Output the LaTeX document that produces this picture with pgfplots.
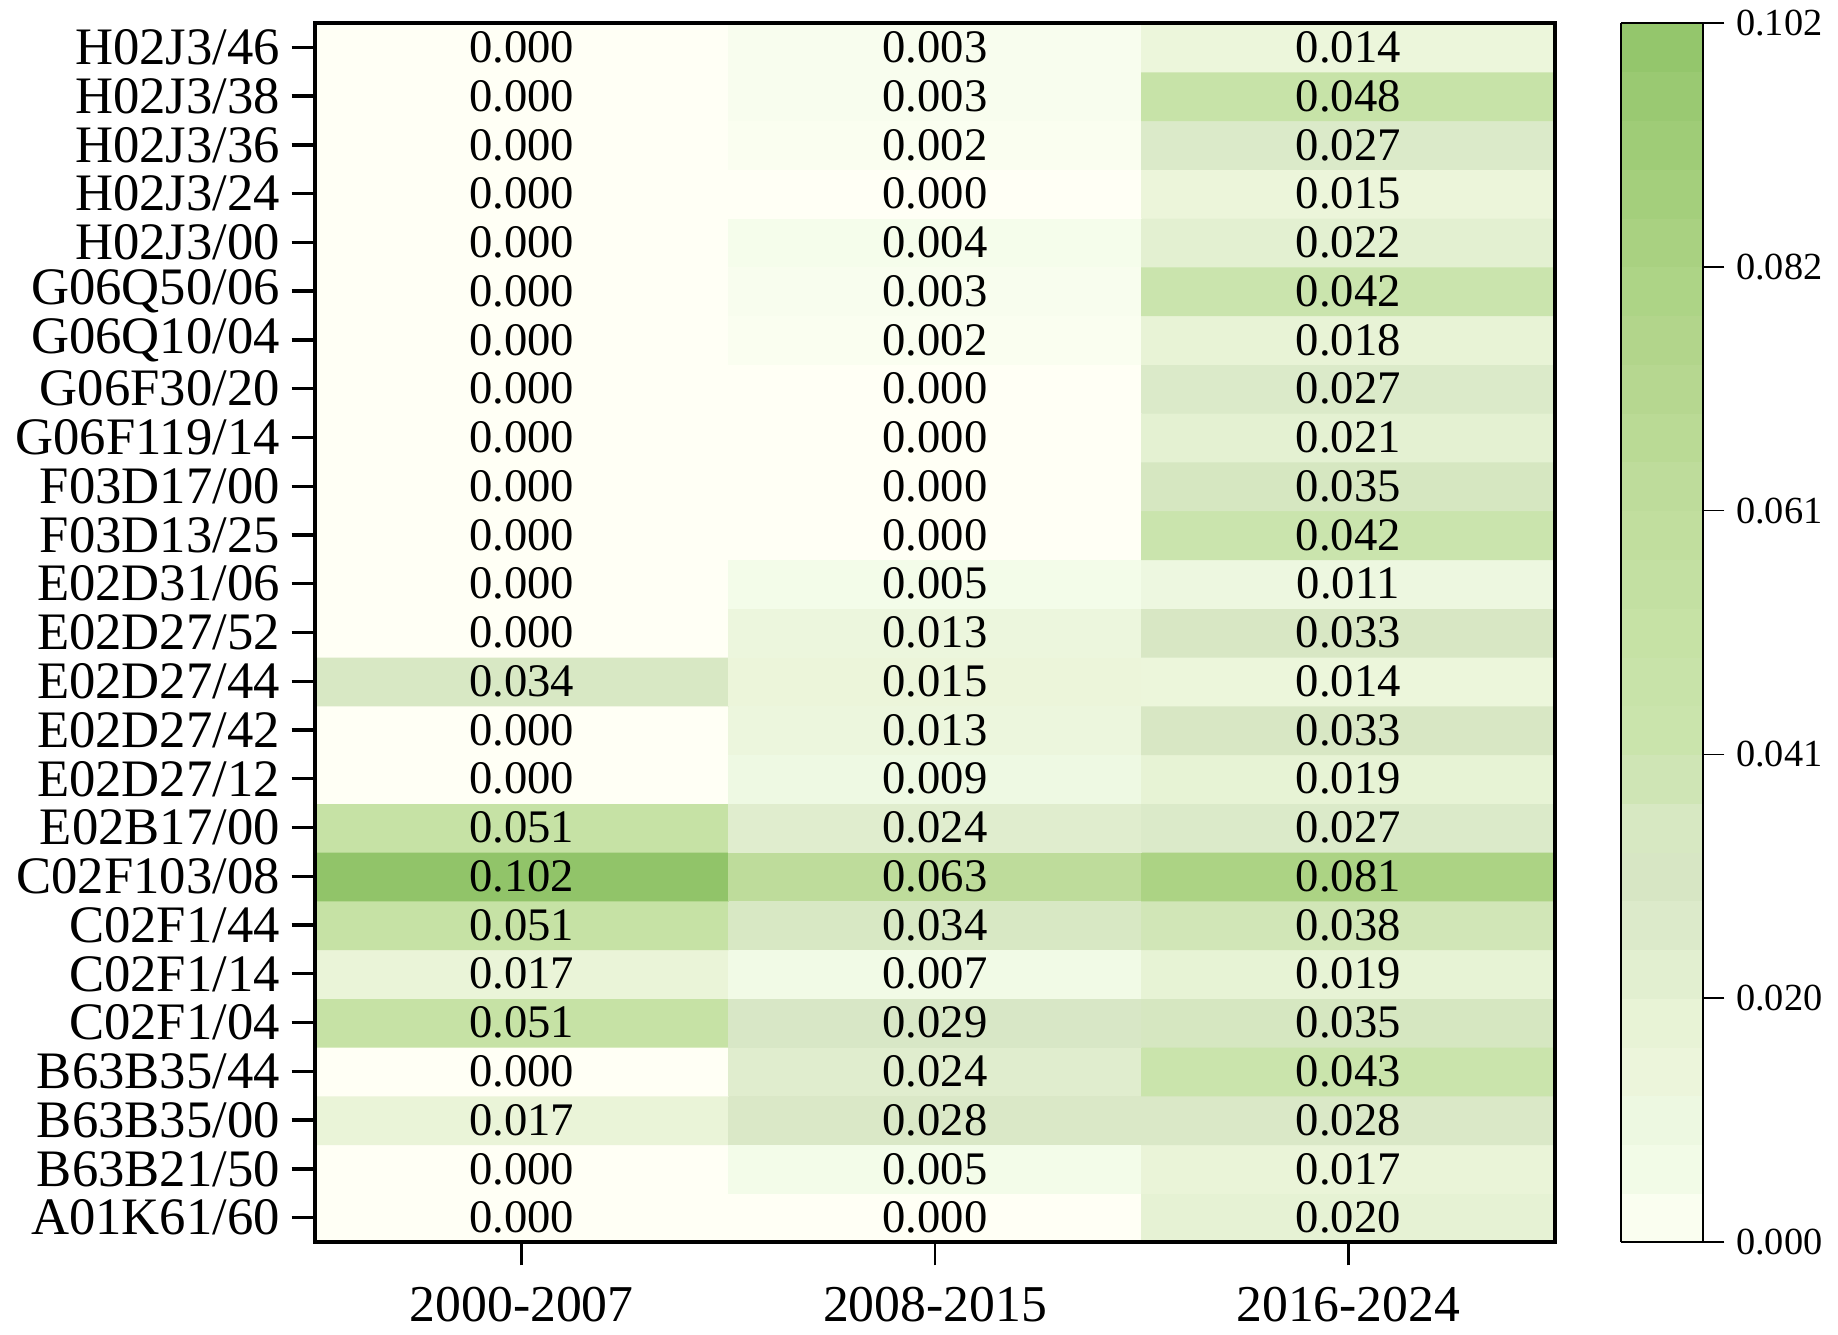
\documentclass[border=0pt]{standalone}
\usepackage{pgfplots}
\pgfplotsset{compat=1.18}
\usepackage{pgfplotstable}
\usepackage{fontspec}
\setmainfont{Liberation Serif}

\pgfplotstableread{
x y v s
0 0 0.000 0.000
1 0 0.000 0.000
2 0 0.020 0.020
0 1 0.000 0.000
1 1 0.005 0.005
2 1 0.017 0.017
0 2 0.017 0.017
1 2 0.028 0.028
2 2 0.028 0.028
0 3 0.000 0.000
1 3 0.024 0.024
2 3 0.043 0.043
0 4 0.051 0.051
1 4 0.029 0.029
2 4 0.035 0.035
0 5 0.017 0.017
1 5 0.007 0.007
2 5 0.019 0.019
0 6 0.051 0.051
1 6 0.034 0.034
2 6 0.038 0.038
0 7 0.102 0.102
1 7 0.063 0.063
2 7 0.081 0.081
0 8 0.051 0.051
1 8 0.024 0.024
2 8 0.027 0.027
0 9 0.000 0.000
1 9 0.009 0.009
2 9 0.019 0.019
0 10 0.000 0.000
1 10 0.013 0.013
2 10 0.033 0.033
0 11 0.034 0.034
1 11 0.015 0.015
2 11 0.014 0.014
0 12 0.000 0.000
1 12 0.013 0.013
2 12 0.033 0.033
0 13 0.000 0.000
1 13 0.005 0.005
2 13 0.011 0.011
0 14 0.000 0.000
1 14 0.000 0.000
2 14 0.042 0.042
0 15 0.000 0.000
1 15 0.000 0.000
2 15 0.035 0.035
0 16 0.000 0.000
1 16 0.000 0.000
2 16 0.021 0.021
0 17 0.000 0.000
1 17 0.000 0.000
2 17 0.027 0.027
0 18 0.000 0.000
1 18 0.002 0.002
2 18 0.018 0.018
0 19 0.000 0.000
1 19 0.003 0.003
2 19 0.042 0.042
0 20 0.000 0.000
1 20 0.004 0.004
2 20 0.022 0.022
0 21 0.000 0.000
1 21 0.000 0.000
2 21 0.015 0.015
0 22 0.000 0.000
1 22 0.002 0.002
2 22 0.027 0.027
0 23 0.000 0.000
1 23 0.003 0.003
2 23 0.048 0.048
0 24 0.000 0.000
1 24 0.003 0.003
2 24 0.014 0.014
}\datatable

\begin{document}
\begin{tikzpicture}
\begin{axis}[
  name=main, at={(0,0)}, anchor=south west,
  scale only axis, width=372pt, height=365.7pt,
  xmin=-0.5, xmax=2.5, ymin=-0.5, ymax=24.5,
  enlargelimits=false,
  xtick={0,1,2},
  xticklabels={2000-2007,2008-2015,2016-2024},
  ytick={0,...,24},
  yticklabels={A01K61/60,B63B21/50,B63B35/00,B63B35/44,C02F1/04,C02F1/14,C02F1/44,C02F103/08,E02B17/00,E02D27/12,E02D27/42,E02D27/44,E02D27/52,E02D31/06,F03D13/25,F03D17/00,G06F119/14,G06F30/20,G06Q10/04,G06Q50/06,H02J3/00,H02J3/24,H02J3/36,H02J3/38,H02J3/46},
  xtick pos=bottom, ytick pos=left,
  tick align=outside, major tick length=7pt,
  xtick style={line width=0.7pt, black},
  ytick style={line width=1pt, black},
  axis line style={line width=1.1pt},
  xticklabel style={font=\fontsize{15.5}{18}\selectfont, yshift=-3pt},
  yticklabel style={font=\fontsize{15.8}{18}\selectfont},
  axis on top,
  colormap={greens}{
    rgb255(0pt)=(255,255,245);
    rgb255(5pt)=(243,252,233);
    rgb255(10pt)=(237,248,225);
    rgb255(15pt)=(236,245,218);
    rgb255(20pt)=(230,242,212);
    rgb255(25pt)=(222,236,204);
    rgb255(30pt)=(215,230,196);
    rgb255(34pt)=(216,232,196);
    rgb255(41pt)=(203,228,174);
    rgb255(51pt)=(198,226,165);
    rgb255(63pt)=(190,220,155);
    rgb255(72pt)=(181,215,143);
    rgb255(81pt)=(172,211,132);
    rgb255(92pt)=(159,204,119);
    rgb255(102pt)=(145,196,105)
  },
  point meta min=0, point meta max=0.102,
  colorbar sampled,
  colorbar style={
    at={(parent axis.north east)}, anchor=north west, xshift=11.4pt,
    width=24.6pt,
    xmin=0, xmax=1, enlargelimits=false,
    samples=26,
    ytick={0,0.0204,0.0408,0.0612,0.0816,0.102},
    yticklabels={0.000,0.020,0.041,0.061,0.082,0.102},
    yticklabel style={font=\fontsize{11.5}{13}\selectfont},
    ytick pos=right, yticklabel pos=right,
    tick align=outside, major tick length=6.3pt,
    ytick style={line width=0.5pt, black},
    axis line style={line width=0.6pt},
  },
]
\addplot[matrix plot*, mesh/cols=3, point meta=explicit] table[x=x, y=y, meta=v]{\datatable};
\addplot[only marks, mark=none, point meta=explicit symbolic,
  nodes near coords, nodes near coords align=center,
  every node near coord/.append style={font=\fontsize{14}{16}\selectfont, text=black, anchor=center}]
  table[x=x, y=y, meta=s]{\datatable};
\end{axis}
\pgfresetboundingbox
\path (-94.5pt,-27.9pt) rectangle (456.9pt,372.6pt);
\end{tikzpicture}
\end{document}
